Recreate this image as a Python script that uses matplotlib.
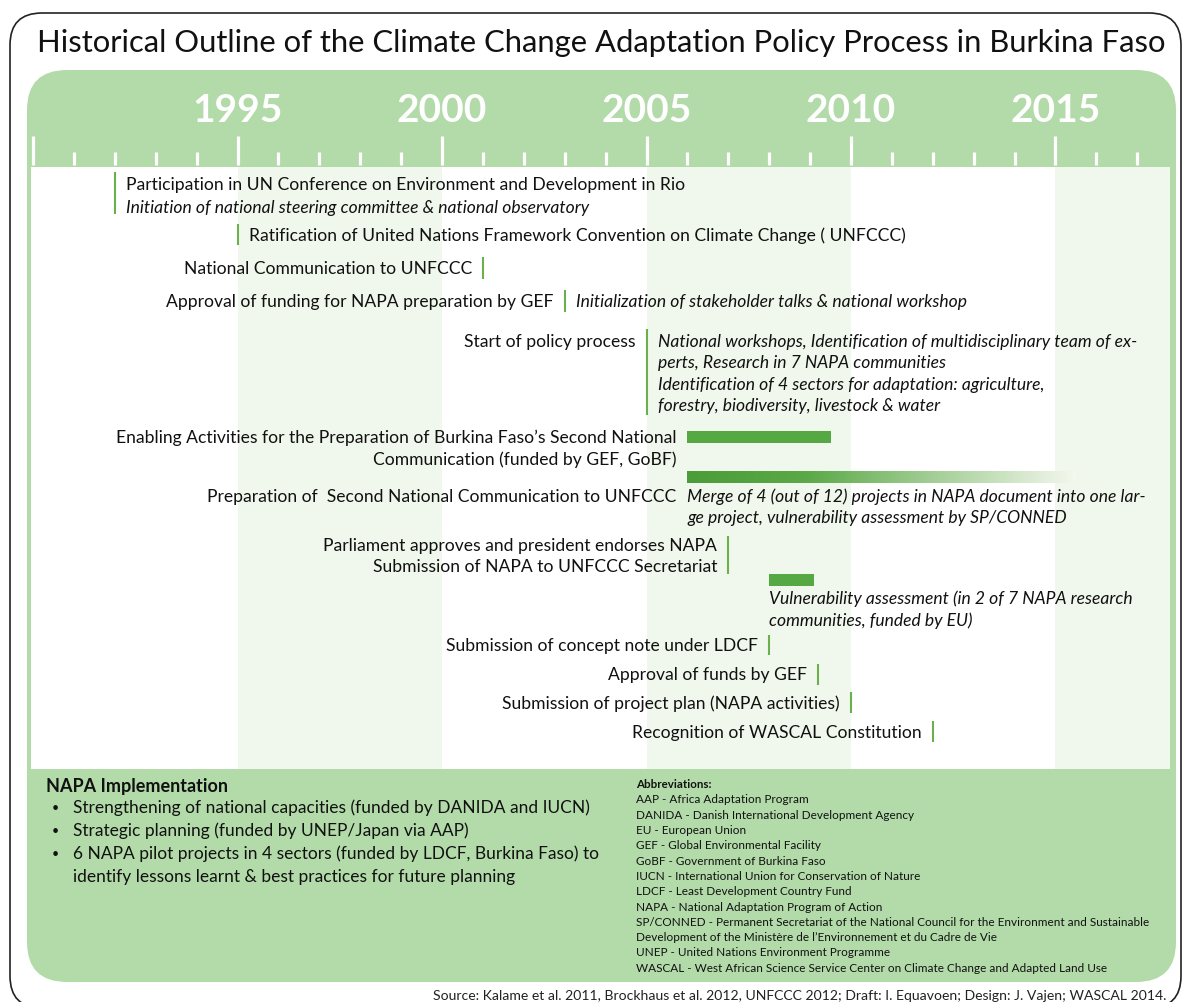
import numpy as np
import matplotlib
matplotlib.use("Agg")
import matplotlib.pyplot as plt
from matplotlib.patches import FancyBboxPatch
from matplotlib.colors import LinearSegmentedColormap
import matplotlib.transforms as mtrans

plt.rcParams['font.family'] = ['Lato', 'DejaVu Sans']

W, H = 1182, 1003

# ---- data ----
major_years = [1990, 1995, 2000, 2005, 2010, 2015]
minor_years = [1991, 1992, 1993, 1994, 1996, 1997, 1998, 1999, 2001, 2002,
               2003, 2004, 2006, 2007, 2008, 2009, 2011, 2012, 2013, 2014,
               2016, 2017]
label_years = [1995, 2000, 2005, 2010, 2015]
band_start = [1995, 2005, 2015]
band_end = [2000, 2010, 2017.8]

mark_years = [1992, 1995, 2001, 2003, 2005, 2007, 2008, 2009.2, 2010, 2012]
mark_left = [
    "",
    "",
    "National Communication to UNFCCC",
    "Approval of funding for NAPA preparation by GEF",
    "Start of policy process",
    "Parliament approves and president endorses NAPA\nSubmission of NAPA to UNFCCC Secretariat",
    "Submission of concept note under LDCF",
    "Approval of funds by GEF",
    "Submission of project plan (NAPA activities)",
    "Recognition of WASCAL Constitution",
]
mark_right = [
    "Participation in UN Conference on Environment and Development in Rio",
    "Ratification of United Nations Framework Convention on Climate Change ( UNFCCC)",
    "", "", "", "", "", "", "", "",
]
mark_right_it = [
    "Initiation of national steering committee & national observatory",
    "", "",
    "Initialization of stakeholder talks & national workshop",
    "National workshops, Identification of multidisciplinary team of ex-\n"
    "perts, Research in 7 NAPA communities\n"
    "Identification of 4 sectors for adaptation: agriculture,\n"
    "forestry, biodiversity, livestock & water",
    "", "", "", "", "",
]

bar_start = [2006, 2006, 2008]
bar_end = [2009.5, 2015.5, 2009.1]
bar_left = [
    "Enabling Activities for the Preparation of Burkina Faso\u2019s Second National\nCommunication (funded by GEF, GoBF)",
    "Preparation of  Second National Communication to UNFCCC",
    "",
]
bar_right_it = [
    "",
    "Merge of 4 (out of 12) projects in NAPA document into one lar-\nge project, vulnerability assessment by SP/CONNED",
    "",
]
bar_below_it = [
    "", "",
    "Vulnerability assessment (in 2 of 7 NAPA research\ncommunities, funded by EU)",
]

napa_items = [
    "Strengthening of national capacities (funded by DANIDA and IUCN)",
    "Strategic planning (funded by UNEP/Japan via AAP)",
    "6 NAPA pilot projects in 4 sectors (funded by LDCF, Burkina Faso) to\nidentify lessons learnt & best practices for future planning",
]
abbreviations = [
    "AAP - Africa Adaptation Program",
    "DANIDA - Danish International Development Agency",
    "EU - European Union",
    "GEF - Global Environmental Facility",
    "GoBF - Government of Burkina Faso",
    "IUCN - International Union for Conservation of Nature",
    "LDCF - Least Development Country Fund",
    "NAPA - National Adaptation Program of Action",
    "SP/CONNED - Permanent Secretariat of the National Council for the Environment and Sustainable",
    "Development of the Minist\u00e8re de l\u2019Environnement et du Cadre de Vie",
    "UNEP - United Nations Environment Programme",
    "WASCAL - West African Science Service Center on Climate Change and Adapted Land Use",
]

# ---- layout (pixel rows) ----
mark_rows = [(173, 215, 185), (225, 246, 236), (258, 280, 269), (291, 313, 302),
             (330, 416, 342), (537, 575, 546), (636, 656, 646), (665, 686, 675),
             (693, 714, 704), (722, 743, 733)]
bar_rows = [(432, 444, 438), (472, 484, 497), (575, 587, 599)]
LINE = 21.5

GREEN = '#b3dba9'
PALE = '#f0f7ec'
MARK = '#6ab04c'
BAR = '#56a843'

fig = plt.figure(figsize=(W / 100, H / 100), dpi=100)

# background canvas in pixel units
bg = fig.add_axes([0, 0, 1, 1])
bg.set_xlim(0, W)
bg.set_ylim(H, 0)
bg.axis('off')
bg.add_patch(FancyBboxPatch((10, 14), 1171, 995, boxstyle="round,pad=0,rounding_size=32",
                            fc='white', ec='#222222', lw=1.2))
bg.add_patch(FancyBboxPatch((27, 71), 1149, 912, boxstyle="round,pad=0,rounding_size=40",
                            fc=GREEN, ec='none'))
bg.text(601, 43, "Historical Outline of the Climate Change Adaptation Policy Process in Burkina Faso",
        ha='center', va='center', fontsize=22.3, color='#111111')

# timeline panel
x0, x1, y0, y1 = 31, 1170, 168, 770
xl = (1989.95, 2017.8)
ax = fig.add_axes([x0 / W, 1 - y1 / H, (x1 - x0) / W, (y1 - y0) / H])
ax.set_xlim(*xl)
ax.set_ylim(y1, y0)
ax.set_facecolor('white')
ax.set_xticks([])
ax.set_yticks([])
for s in ax.spines.values():
    s.set_visible(False)
for a, b in zip(band_start, band_end):
    ax.axvspan(a, b, color=PALE, lw=0, zorder=0)

# header with year scale
hx = fig.add_axes([x0 / W, 1 - y0 / H, (x1 - x0) / W, (y0 - 71) / H])
hx.set_xlim(*xl)
hx.set_ylim(y0, 71)
hx.axis('off')
hx.vlines(major_years, 137, y0 - 2, color='white', lw=2.3)
hx.vlines(minor_years, 153, y0 - 2, color='white', lw=2.3)
for yr in label_years:
    hx.text(yr, 111, str(yr), ha='center', va='center', color='white',
            fontsize=28, fontweight='bold')

left_off = mtrans.offset_copy(ax.transData, fig=fig, x=-8, y=0, units='points')
right_off = mtrans.offset_copy(ax.transData, fig=fig, x=8, y=0, units='points')
FS = 12.6


def put(tr, x, y, txt, ha, style='normal'):
    for i, line in enumerate(txt.split('\n')):
        ax.text(x, y + i * LINE, line, transform=tr, ha=ha, va='center',
                fontsize=FS, style=style, color='#111111')


for yr, (ya, yb, yt), lt, rt, ri in zip(mark_years, mark_rows, mark_left, mark_right, mark_right_it):
    ax.vlines(yr, ya, yb, color=MARK, lw=1.5)
    if lt:
        put(left_off, yr, yt, lt, 'right')
    if rt:
        put(right_off, yr, yt, rt, 'left')
        if ri:
            put(right_off, yr, yt + 23, ri, 'left', 'italic')
    elif ri:
        put(right_off, yr, yt, ri, 'left', 'italic')

fade = LinearSegmentedColormap.from_list('fade', [(0, '#4c9c3a'), (0.3, '#5aa846'), (1, '#f4f8ee')])
for i, (a, b, (ya, yb, yt)) in enumerate(zip(bar_start, bar_end, bar_rows)):
    if i == 1:
        grad = np.linspace(0, 1, 256).reshape(1, -1)
        ax.imshow(grad, cmap=fade, extent=(a, b, yb, ya), aspect='auto', zorder=2)
    else:
        ax.barh((ya + yb) / 2, b - a, left=a, height=yb - ya, color=BAR, zorder=2)
    if bar_left[i]:
        lines = bar_left[i].split('\n')
        put(left_off, a, yt if len(lines) == 1 else ya + 6, bar_left[i], 'right')
    if bar_right_it[i]:
        put(ax.transData, a, yt, bar_right_it[i], 'left', 'italic')
    if bar_below_it[i]:
        put(ax.transData, a, yt, bar_below_it[i], 'left', 'italic')
ax.set_xlim(*xl)
ax.set_ylim(y1, y0)

# lower notes
bg.text(46, 787, "NAPA Implementation", fontsize=13, fontweight='bold', va='center', color='#111111')
yy = 808
for item in napa_items:
    bg.text(52, yy, "\u2022", fontsize=9, va='center', color='#111111')
    for line in item.split('\n'):
        bg.text(73, yy, line, fontsize=12.5, va='center', color='#111111')
        yy += 23
bg.text(636, 785, "Abbreviations:", fontsize=8.3, fontweight='bold', va='center', color='#111111')
for i, ab in enumerate(abbreviations):
    bg.text(636, 800 + i * 15.3, ab, fontsize=8.45, va='center', color='#111111')

bg.text(1166, 996, "Source: Kalame et al. 2011, Brockhaus et al. 2012, UNFCCC 2012; Draft: I. Equavoen; "
        "Design: J. Vajen; WASCAL 2014.", ha='right', va='center', fontsize=10.1, color='#222222',
        bbox=dict(fc='white', ec='none', pad=1))

fig.savefig('out.png', dpi=100)
